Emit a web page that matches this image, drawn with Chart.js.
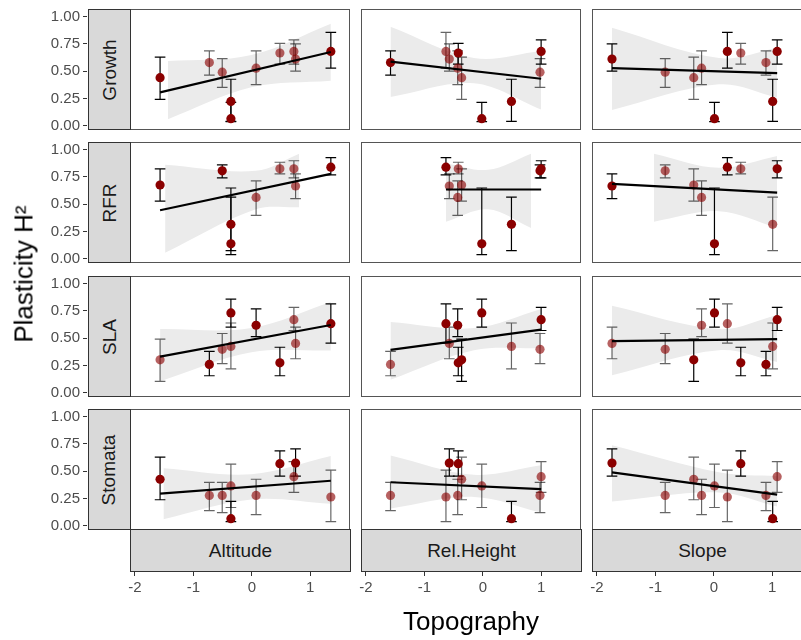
<!DOCTYPE html>
<html><head><meta charset="utf-8">
<script src="https://cdn.jsdelivr.net/npm/chart.js@4"></script>
<style>
html,body{margin:0;padding:0;background:#fff;overflow:hidden;width:801px;height:640px;}
#wrap{position:relative;width:801px;height:640px;overflow:hidden;font-family:"Liberation Sans",Arial,sans-serif;background:#fff;}
canvas{position:absolute;}
.strip{position:absolute;background:#d9d9d9;border:1px solid #333;box-sizing:border-box;display:flex;align-items:center;justify-content:center;color:#1a1a1a;font-size:19px;overflow:hidden;}
.strip span{white-space:nowrap;display:block;}
.strip.left span{transform:rotate(-90deg);}
.title{position:absolute;color:#000;font-size:26px;white-space:nowrap;transform:translate(-50%,-50%);}
</style></head><body><div id="wrap"></div>
<script>
// ---------- data ----------
const rowLabels = ["Growth", "RFR", "SLA", "Stomata"];
const colLabels = ["Altitude", "Rel.Height", "Slope"];
const yTicks = [0, 0.25, 0.5, 0.75, 1];
const xTicks = [-2, -1, 0, 1];

// topography of the 10 populations
const altitude  = [-1.63, -0.75, -0.52, -0.365, -0.365, 0.085, 0.51, 0.76, 0.79, 1.42];
const relHeight = [-0.37, -1.64, 1.03, 0.52, -0.01, -0.44, -0.43, 1.05, -0.59, -0.65];
const slope     = [-0.35, 0.94, -0.86, 1.06, 0.02, -0.21, 0.49, 1.14, -1.81, 0.25];

// plasticity H2 with error bars
const growth    = [0.436, 0.585, 0.49, 0.20, 0.03, 0.53, 0.68, 0.695, 0.62, 0.695];
const growthLo  = [0.22, 0.46, 0.34, 0.003, 0.0, 0.366, 0.57, 0.57, 0.50, 0.53];
const growthHi  = [0.64, 0.70, 0.625, 0.42, 0.19, 0.70, 0.775, 0.81, 0.77, 0.885];
const rfr       = [0.69, null, 0.83, 0.30, 0.107, 0.567, 0.85, 0.85, 0.68, 0.866];
const rfrLo     = [0.53, null, 0.76, 0.04, 0.0, 0.39, 0.80, 0.76, 0.555, 0.79];
const rfrHi     = [0.85, null, 0.89, 0.57, 0.66, 0.73, 0.915, 0.93, 0.80, 0.96];
const sla       = [0.286, 0.24, 0.39, 0.418, 0.75, 0.628, 0.256, 0.683, 0.448, 0.643];
const slaLo     = [0.073, 0.128, 0.247, 0.195, 0.61, 0.515, 0.128, 0.576, 0.296, 0.45];
const slaHi     = [0.49, 0.37, 0.546, 0.65, 0.887, 0.79, 0.41, 0.805, 0.61, 0.84];
const stomata   = [0.42, 0.26, 0.26, 0.03, 0.354, 0.26, 0.574, 0.445, 0.58, 0.244];
const stomataLo = [0.217, 0.11, 0.09, 0.0, 0.14, 0.07, 0.45, 0.29, 0.45, 0.0];
const stomataHi = [0.64, 0.39, 0.39, 0.20, 0.57, 0.42, 0.70, 0.595, 0.72, 0.51];

// opaque (1) vs translucent (0) points, per column (Altitude, Rel.Height, Slope)
const darkGrowth  = [[1,0,0,1,1,0,0,0,0,1],[0,1,0,1,1,0,1,1,0,0],[0,0,0,1,1,0,0,1,1,1]];
const darkRFR     = [[1,0,1,1,1,0,0,0,0,1],[0,0,1,1,1,0,0,1,0,1],[0,0,0,0,1,0,0,1,1,1]];
const darkSLA     = [[0,1,0,0,1,1,1,0,0,1],[1,0,0,0,1,1,1,1,0,1],[1,1,0,0,1,0,1,1,0,0]];
const darkStomata = [[1,0,0,1,0,0,1,0,1,0],[0,0,0,1,0,0,1,0,1,0],[0,0,0,1,0,0,1,0,1,0]];

// linear fits [x1, y1, x2, y2]
const fitGrowth  = [[-1.63,0.29,1.42,0.69],[-1.64,0.595,1.05,0.425],[-1.81,0.53,1.14,0.48]];
const fitRFR     = [[-1.63,0.44,1.42,0.80],[-0.65,0.645,1.05,0.645],[-1.81,0.70,1.14,0.615]];
const fitSLA     = [[-1.63,0.317,1.42,0.63],[-1.64,0.384,1.05,0.585],[-1.81,0.47,1.14,0.49]];
const fitStomata = [[-1.63,0.277,1.42,0.405],[-1.64,0.39,1.05,0.323],[-1.81,0.488,1.14,0.268]];

// confidence bands [x, lower, upper]
const bandGrowth = [
  [[-1.49,0.025,0.60],[0.0,0.34,0.66],[1.42,0.405,0.97]],
  [[-1.64,0.245,0.94],[-0.15,0.38,0.63],[1.05,0.12,0.70]],
  [[-1.81,0.116,0.93],[0.1,0.37,0.63],[1.14,0.24,0.73]]];
const bandRFR = [
  [[-1.54,0.02,0.89],[0.08,0.45,0.83],[0.855,0.47,1.0]],
  [[-0.65,0.327,0.906],[0.1,0.45,0.84],[0.87,0.265,1.0]],
  [[-1.06,0.327,1.0],[0.1,0.43,0.86],[1.14,0.265,0.976]]];
const bandSLA = [
  [[-1.63,0.073,0.59],[0.0,0.36,0.60],[1.42,0.378,0.857]],
  [[-1.64,0.089,0.66],[-0.15,0.38,0.60],[1.05,0.40,0.79]],
  [[-1.81,0.134,0.82],[0.1,0.38,0.59],[1.14,0.265,0.73]]];
const bandStomata = [
  [[-1.57,0.025,0.53],[0.0,0.22,0.47],[1.42,0.177,0.65]],
  [[-1.64,0.131,0.656],[-0.15,0.245,0.465],[1.05,0.09,0.558]],
  [[-1.81,0.2,0.757],[0.1,0.29,0.49],[1.14,0.15,0.45]]];

// ---------- layout / style ----------
const FONT = '"Liberation Sans", Arial, sans-serif';
const Y_MIN = -0.037, Y_MAX = 1.07;
const X_MIN = -2.085, X_MAX = 1.68;
const CAP = 0.095;
const colLeft = [130, 361, 592], panelW = 220;
const rowTop = [9, 142, 276, 409], panelH = 121;
const DARK = '#8b0000', LIGHT = 'rgba(139,0,0,0.62)';

const topo = [altitude, relHeight, slope];
const traitVal = [growth, rfr, sla, stomata];
const traitLo = [growthLo, rfrLo, slaLo, stomataLo];
const traitHi = [growthHi, rfrHi, slaHi, stomataHi];
const darkFlags = [darkGrowth, darkRFR, darkSLA, darkStomata];
const fits = [fitGrowth, fitRFR, fitSLA, fitStomata];
const bands = [bandGrowth, bandRFR, bandSLA, bandStomata];

const wrap = document.getElementById('wrap');
function makeCanvas(left, top, w, h) {
  const c = document.createElement('canvas');
  c.width = w; c.height = h;
  c.style.left = left + 'px'; c.style.top = top + 'px';
  c.style.width = w + 'px'; c.style.height = h + 'px';
  wrap.appendChild(c);
  return c;
}
function div(cls, left, top, w, h, text) {
  const d = document.createElement('div');
  d.className = cls;
  d.style.left = left + 'px'; d.style.top = top + 'px';
  if (w != null) d.style.width = w + 'px';
  if (h != null) d.style.height = h + 'px';
  const s = document.createElement('span'); s.textContent = text; d.appendChild(s);
  wrap.appendChild(d);
  return d;
}

function panel(r, c) {
  const xs = topo[c];
  const pts = [];
  for (let i = 0; i < xs.length; i++) {
    if (traitVal[r][i] == null) continue;
    pts.push({x: xs[i], y: traitVal[r][i], lo: traitLo[r][i], hi: traitHi[r][i], d: darkFlags[r][c][i]});
  }
  const band = bands[r][c], fit = fits[r][c];
  const errPlugin = {
    id: 'errbars',
    afterDatasetDraw(chart, args) {
      if (args.index !== 0) return;
      const sx = chart.scales.x, sy = chart.scales.y, ctx = chart.ctx, a = chart.chartArea;
      ctx.save();
      ctx.beginPath(); ctx.rect(a.left, a.top, a.width, a.height); ctx.clip();
      ctx.lineWidth = 1.2;
      pts.forEach(p => {
        const x = sx.getPixelForValue(p.x);
        const xl = sx.getPixelForValue(p.x - CAP), xr = sx.getPixelForValue(p.x + CAP);
        const yl = sy.getPixelForValue(p.lo), yh = sy.getPixelForValue(p.hi);
        ctx.strokeStyle = p.d ? '#000' : 'rgba(0,0,0,0.6)';
        ctx.beginPath();
        ctx.moveTo(xl, yh); ctx.lineTo(xr, yh);
        ctx.moveTo(x, yh); ctx.lineTo(x, yl);
        ctx.moveTo(xl, yl); ctx.lineTo(xr, yl);
        ctx.stroke();
      });
      ctx.restore();
    }
  };
  const borderPlugin = {
    id: 'pborder',
    afterDraw(chart) {
      const ctx = chart.ctx;
      ctx.save(); ctx.strokeStyle = '#555'; ctx.lineWidth = 1;
      ctx.strokeRect(0.5, 0.5, chart.width - 1, chart.height - 1);
      ctx.restore();
    }
  };
  const cv = makeCanvas(colLeft[c], rowTop[r], panelW, panelH);
  new Chart(cv, {
    type: 'scatter',
    data: { datasets: [
      { type: 'line', data: band.map(b => ({x: b[0], y: b[2]})), borderWidth: 0, pointRadius: 0,
        fill: '+1', backgroundColor: '#ebebeb', tension: 0.35, order: 4 },
      { type: 'line', data: band.map(b => ({x: b[0], y: b[1]})), borderWidth: 0, pointRadius: 0,
        fill: false, tension: 0.35, order: 4 },
      { type: 'scatter', data: pts.map(p => ({x: p.x, y: p.y})), pointRadius: 4.6, borderWidth: 0,
        pointBackgroundColor: pts.map(p => p.d ? DARK : LIGHT), pointBorderWidth: 0, order: 2 },
      { type: 'line', data: [{x: fit[0], y: fit[1]}, {x: fit[2], y: fit[3]}], borderColor: '#000',
        borderWidth: 2.2, pointRadius: 0, fill: false, tension: 0, order: 1 }
    ]},
    options: {
      responsive: false, animation: false, devicePixelRatio: 1, events: [],
      layout: { padding: 0 },
      plugins: { legend: { display: false }, tooltip: { enabled: false } },
      scales: {
        x: { type: 'linear', display: false, min: X_MIN, max: X_MAX },
        y: { type: 'linear', display: false, min: Y_MIN, max: Y_MAX }
      }
    },
    plugins: [errPlugin, borderPlugin]
  });
}

function yAxis(r) {
  const cv = makeCanvas(0, rowTop[r] - 20, 88, panelH + 40);
  new Chart(cv, {
    type: 'scatter', data: { datasets: [] },
    options: {
      responsive: false, animation: false, devicePixelRatio: 1, events: [],
      layout: { padding: { top: 20, bottom: 20, left: 0, right: 0 } },
      plugins: { legend: { display: false }, tooltip: { enabled: false } },
      scales: {
        x: { type: 'linear', display: false, min: 0, max: 1 },
        y: { type: 'linear', position: 'left', min: Y_MIN, max: Y_MAX,
          afterBuildTicks: s => { s.ticks = yTicks.map(v => ({value: v})); },
          afterFit: s => { s.width = 87; },
          ticks: { callback: v => Number(v).toFixed(2), color: '#4d4d4d', padding: 3,
                   font: { family: FONT, size: 15 }, autoSkip: false },
          grid: { drawOnChartArea: false, drawTicks: true, tickLength: 4, color: '#333', lineWidth: 1 },
          border: { display: false } }
      }
    }
  });
}

function xAxis(c) {
  const cv = makeCanvas(colLeft[c] - 20, 571, panelW + 40, 40);
  new Chart(cv, {
    type: 'scatter', data: { datasets: [] },
    options: {
      responsive: false, animation: false, devicePixelRatio: 1, events: [],
      layout: { padding: { top: 0, bottom: 0, left: 20, right: 20 } },
      plugins: { legend: { display: false }, tooltip: { enabled: false } },
      scales: {
        y: { type: 'linear', display: false, min: 0, max: 1 },
        x: { type: 'linear', position: 'bottom', min: X_MIN, max: X_MAX,
          afterBuildTicks: s => { s.ticks = xTicks.map(v => ({value: v})); },
          afterFit: s => { s.height = 39; },
          ticks: { callback: v => String(v), color: '#4d4d4d', padding: 3,
                   font: { family: FONT, size: 15 }, autoSkip: false, maxRotation: 0 },
          grid: { drawOnChartArea: false, drawTicks: true, tickLength: 4, color: '#333', lineWidth: 1 },
          border: { display: false } }
      }
    }
  });
}

for (let r = 0; r < 4; r++) {
  for (let c = 0; c < 3; c++) panel(r, c);
  yAxis(r);
  div('strip left', 88, rowTop[r], 43, panelH, rowLabels[r]);
}
for (let c = 0; c < 3; c++) {
  xAxis(c);
  div('strip', colLeft[c], 529, panelW + 1, 43, colLabels[c]);
}
const yt = div('title', 24, 274, null, null, 'Plasticity H²');
yt.style.transform = 'translate(-50%,-50%) rotate(-90deg)';
div('title', 471, 621, null, null, 'Topography');
</script>
</body></html>
